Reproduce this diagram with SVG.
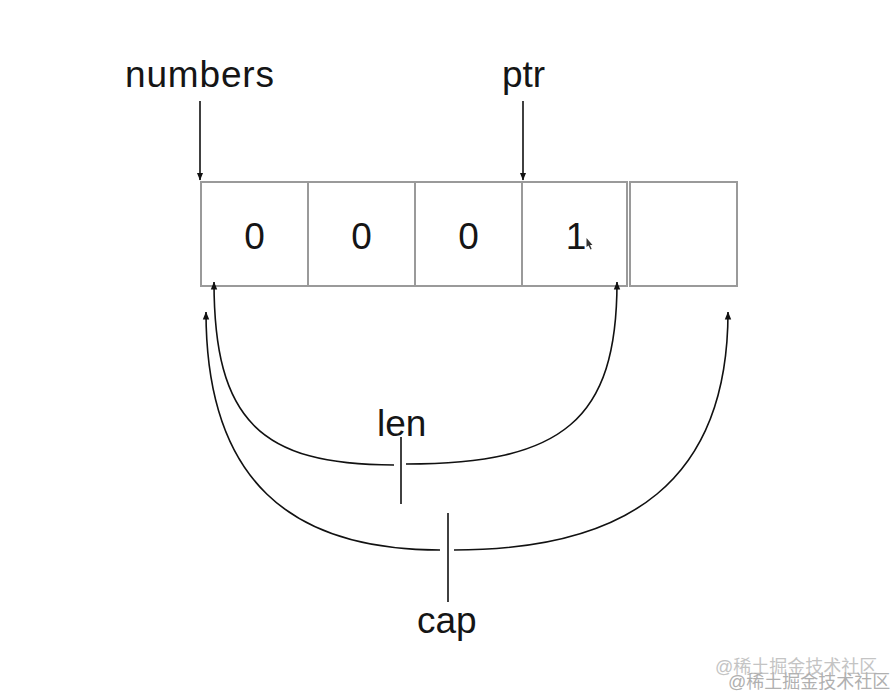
<svg xmlns="http://www.w3.org/2000/svg" width="894" height="698" viewBox="0 0 894 698">
<defs>
<marker id="ah" viewBox="0 0 8 8" refX="7.5" refY="4" markerWidth="8" markerHeight="8" markerUnits="userSpaceOnUse" orient="auto">
<path d="M0,0.8 L8,4 L0,7.2 Z" fill="#111"/>
</marker>
<style>
.box{fill:#fff;stroke:#9a9a9a;stroke-width:2}
.lbl{font-family:"Liberation Sans",Arial,sans-serif;font-size:37px;fill:#151515}
.dig{font-family:"Liberation Sans",Arial,sans-serif;font-size:37px;fill:#151515;text-anchor:middle}
.con{fill:none;stroke:#111;stroke-width:1.6}
.wm{font-family:"Liberation Sans","Noto Sans CJK SC",sans-serif;font-size:18px}
</style>
</defs>
<rect width="894" height="698" fill="#fff"/>
<g id="cells">
<g id="cell0"><rect class="box" x="201" y="182" width="107" height="104"/><text class="dig" x="254.5" y="249">0</text></g>
<g id="cell1"><rect class="box" x="308" y="182" width="107" height="104"/><text class="dig" x="361.5" y="249">0</text></g>
<g id="cell2"><rect class="box" x="415" y="182" width="107" height="104"/><text class="dig" x="468.5" y="249">0</text></g>
<g id="cell3"><rect class="box" x="522" y="182" width="105" height="104"/><text class="dig" x="576" y="249">1</text></g>
<g id="cell4"><rect class="box" x="630" y="182" width="107" height="104"/></g>
</g>
<g id="cursor"><path d="M586.5,238 L586.5,247 L588.5,245.5 L590.5,249.5 L591.7,249 L590,245 L592.5,245 Z" fill="#333"/></g>
<g id="numbers"><text class="lbl" x="125" y="87" textLength="149">numbers</text></g>
<g id="ptr"><text class="lbl" x="502" y="87">ptr</text></g>
<g id="len"><text class="lbl" x="377" y="436">len</text></g>
<g id="cap"><text class="lbl" x="417" y="633">cap</text></g>
<g id="connectors">
<line class="con" x1="200" y1="101" x2="200" y2="180" marker-end="url(#ah)"/>
<line class="con" x1="523" y1="101" x2="523" y2="180" marker-end="url(#ah)"/>
<path class="con" d="M394,465 C260,465 214,420 214,282" marker-end="url(#ah)"/>
<path class="con" d="M406,464 C563,464 617,420 617,282" marker-end="url(#ah)"/>
<line class="con" x1="401" y1="437" x2="401" y2="504"/>
<path class="con" d="M440,550 C290,550 206,480 206,312" marker-end="url(#ah)"/>
<path class="con" d="M454,550 C630,550 728,480 728,312" marker-end="url(#ah)"/>
<line class="con" x1="448" y1="513" x2="448" y2="602"/>
</g>
<g id="watermark">
<text class="wm" x="715" y="673" fill="#c4c4c4">@稀土掘金技术社区</text>
<text class="wm" x="728" y="688" fill="#b0b0b0">@稀土掘金技术社区</text>
</g>
</svg>
